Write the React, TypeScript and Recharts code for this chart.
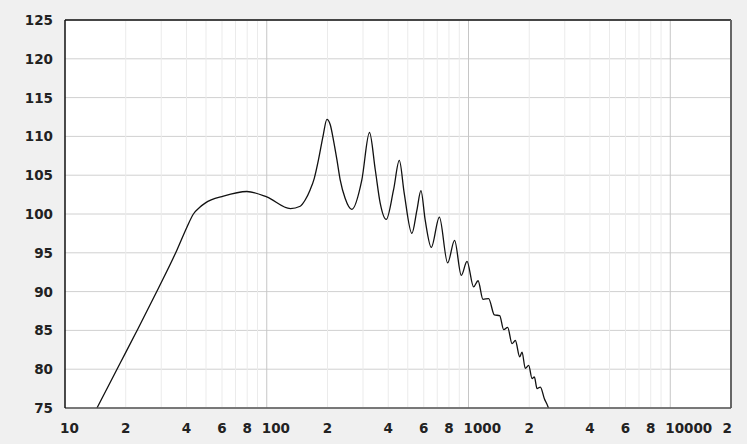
import { LineChart, Line, XAxis, YAxis, CartesianGrid, ReferenceLine } from 'recharts';

// frequency response (Hz / dB SPL)
const FREQ = [
  14.4, 18.7, 23.1, 29, 35.8, 40.2, 43.3, 46.7, 49.5, 61, 79.7, 100, 131, 146.5, 155,
  164, 172, 180.5, 190, 198.7, 206.4, 214.2, 222.7, 231.2, 244.8, 264, 296, 323, 345,
  365, 391, 425, 454, 480, 524, 555, 581, 610, 654, 717, 788, 853, 921, 983,
  1060, 1115, 1180, 1258, 1343, 1427, 1494, 1563, 1643, 1707, 1793, 1842, 1912, 1987,
  2065, 2120, 2187, 2271, 2377, 2474, 2520,
];
const SPL = [
  75.0, 80.7, 85.3, 90.4, 95.3, 98.3, 100.0, 100.9, 101.4, 102.3, 102.9, 102.2, 100.7, 101.0, 101.8,
  103.1, 104.6, 107.0, 110.0, 112.2, 111.5, 109.5, 107.0, 104.4, 102.0, 100.6, 104.4, 110.5, 105.7,
  101.4, 99.3, 103.1, 106.9, 102.7, 97.5, 100.5, 103.0, 99.2, 95.7, 99.6, 93.7, 96.6, 92.1, 93.9,
  90.6, 91.4, 89.0, 89.1, 87.0, 86.9, 85.1, 85.4, 83.3, 83.7, 81.6, 82.2, 80.1, 80.5,
  78.8, 79.0, 77.5, 77.7, 76.2, 75.2, 74.6,
];

const X_TICKS = [10, 20, 40, 60, 80, 100, 200, 400, 600, 800, 1000, 2000, 4000, 6000, 8000, 10000, 20000];
const Y_TICKS = [75, 80, 85, 90, 95, 100, 105, 110, 115, 120, 125];
const GRID_MAJOR = [100, 1000, 10000];
const GRID_MINOR = [
  20, 30, 40, 50, 60, 70, 80, 90,
  200, 300, 400, 500, 600, 700, 800, 900,
  2000, 3000, 4000, 5000, 6000, 7000, 8000, 9000,
];

const data = FREQ.map((f, i) => ({ f, spl: SPL[i] }));

const FONT = '"DejaVu Sans", Verdana, sans-serif';

const isDecade = (v: number) => Math.abs(Math.log10(v) - Math.round(Math.log10(v))) < 1e-9;

function XTick({ x, y, payload }: any) {
  const v = payload.value as number;
  let label = isDecade(v) ? String(v) : String(v).charAt(0);
  let anchor: 'start' | 'middle' | 'end' = isDecade(v) ? 'start' : 'middle';
  let dx = isDecade(v) ? -5 : 0;
  if (v === 20000) { anchor = 'end'; dx = 1; }
  return (
    <text x={x + dx} y={y} dy={25} textAnchor={anchor} fontFamily={FONT} fontWeight="bold" fontSize={13.5} fill="#222">
      {label}
    </text>
  );
}

function YTick({ x, y, payload }: any) {
  return (
    <text x={x - 12} y={y} dy={5} textAnchor="end" fontFamily={FONT} fontWeight="bold" fontSize={13.5} fill="#222">
      {payload.value}
    </text>
  );
}

export default function App() {
  return (
    <div style={{ position: 'absolute', left: 0, top: 0, width: 747, height: 444, background: '#f0f0f0' }}>
      <LineChart width={747} height={444} data={data} margin={{ top: 20, right: 16, bottom: 6, left: 5 }}>
        <CartesianGrid fill="#fff" vertical={false} stroke="#d0d0d0" strokeOpacity={1} />
        {GRID_MINOR.map(v => (
          <ReferenceLine key={'n' + v} x={v} stroke="#ebebeb" strokeWidth={1} />
        ))}
        {GRID_MAJOR.map(v => (
          <ReferenceLine key={'m' + v} x={v} stroke="#c6c6c6" strokeWidth={1} />
        ))}
        <XAxis
          dataKey="f"
          type="number"
          scale="log"
          domain={[10, 20000]}
          ticks={X_TICKS}
          allowDataOverflow
          height={30}
          tickSize={0}
          tickMargin={0}
          tick={<XTick />}
          axisLine={{ stroke: '#555', strokeWidth: 1.5 }}
          interval={0}
        />
        <YAxis
          type="number"
          domain={[75, 125]}
          ticks={Y_TICKS}
          allowDataOverflow
          width={60}
          tickSize={0}
          tickMargin={0}
          tick={<YTick />}
          axisLine={{ stroke: '#111', strokeWidth: 1.5 }}
          interval={0}
        />
        <ReferenceLine y={125} stroke="#111" strokeWidth={1.5} />
        <ReferenceLine x={20000} stroke="#666" strokeWidth={2} />
        <Line
          type="monotone"
          dataKey="spl"
          stroke="#111"
          strokeWidth={1.3}
          dot={false}
          isAnimationActive={false}
        />
      </LineChart>
    </div>
  );
}
